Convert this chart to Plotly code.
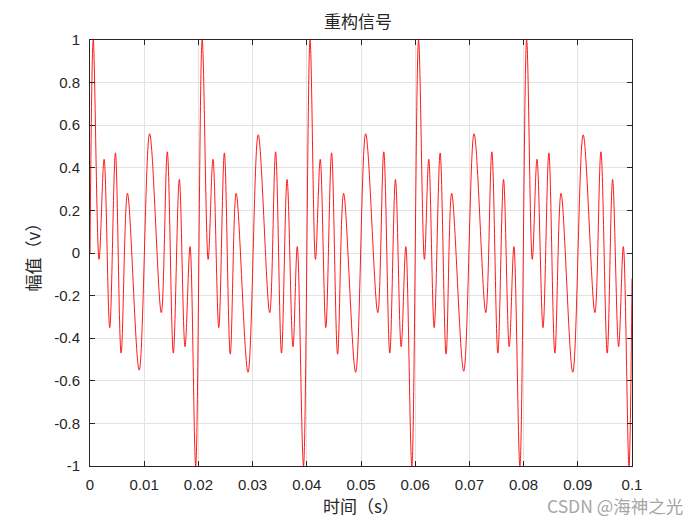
import plotly.graph_objects as go

# Extrema of the reconstructed signal
t_s = [0.0, 0.0006, 0.00167, 0.0026, 0.00364, 0.00469, 0.00574, 0.00691, 0.00907, 0.0110,
       0.01315, 0.01426, 0.01537, 0.01648, 0.01753, 0.01846, 0.0195,
       0.0207, 0.0218, 0.02269, 0.02376, 0.02479, 0.02588, 0.02697, 0.02915, 0.03103,
       0.03315, 0.03424, 0.03533, 0.03636, 0.03745, 0.03824, 0.03939,
       0.0406, 0.0416, 0.04248, 0.04351, 0.04457, 0.04568, 0.04679, 0.04901, 0.05086,
       0.05309, 0.0542, 0.05531, 0.05636, 0.05741, 0.05827, 0.05938,
       0.06062, 0.0617, 0.0625, 0.0635, 0.0646, 0.0657, 0.06673, 0.06895, 0.07086,
       0.07302, 0.07414, 0.07525, 0.0763, 0.07735, 0.07821, 0.07932,
       0.08056, 0.0816, 0.08247, 0.08358, 0.08466, 0.08577, 0.08691, 0.08907, 0.09099,
       0.09315, 0.09426, 0.09543, 0.09642, 0.09753, 0.0984, 0.09944, 0.1]
amp_v = [0.0, 1.0, -0.03, 0.44, -0.35, 0.47, -0.47, 0.28, -0.55, 0.56,
         -0.28, 0.475, -0.47, 0.345, -0.44, 0.03, -1.0,
         1.0, -0.03, 0.44, -0.35, 0.47, -0.475, 0.28, -0.56, 0.555,
         -0.28, 0.475, -0.47, 0.345, -0.44, 0.03, -1.0,
         1.0, -0.03, 0.44, -0.35, 0.47, -0.475, 0.28, -0.56, 0.56,
         -0.28, 0.475, -0.47, 0.345, -0.44, 0.03, -1.0,
         1.0, -0.03, 0.44, -0.35, 0.47, -0.475, 0.28, -0.555, 0.56,
         -0.28, 0.475, -0.47, 0.345, -0.44, 0.03, -1.0,
         1.0, -0.03, 0.44, -0.35, 0.47, -0.47, 0.28, -0.56, 0.555,
         -0.28, 0.475, -0.47, 0.345, -0.44, 0.03, -1.0, -0.12]

x_ticks = [0, 0.01, 0.02, 0.03, 0.04, 0.05, 0.06, 0.07, 0.08, 0.09, 0.1]
x_tick_labels = ["0", "0.01", "0.02", "0.03", "0.04", "0.05", "0.06", "0.07", "0.08", "0.09", "0.1"]
y_ticks = [-1, -0.8, -0.6, -0.4, -0.2, 0, 0.2, 0.4, 0.6, 0.8, 1]
y_tick_labels = ["-1", "-0.8", "-0.6", "-0.4", "-0.2", "0", "0.2", "0.4", "0.6", "0.8", "1"]

FONT = "Liberation Sans, Arial, sans-serif"
CJK = "Noto Sans CJK SC, sans-serif"

fig = go.Figure()
fig.add_trace(go.Scatter(x=t_s, y=amp_v, mode="lines",
                         line=dict(color="#ff0000", width=0.9, shape="spline", smoothing=1.0),
                         showlegend=False, hoverinfo="skip"))

axis_common = dict(showline=True, linecolor="#262626", linewidth=1, mirror="ticks",
                   ticks="inside", ticklen=5, tickcolor="#262626", automargin=False,
                   showgrid=True, gridcolor="#e3e3e3", gridwidth=1, zeroline=False,
                   tickfont=dict(family=FONT, size=15, color="#262626"))

fig.update_xaxes(range=[0, 0.1], tickvals=x_ticks, ticktext=x_tick_labels,
                 title=dict(text="时间（s）", font=dict(family=CJK, size=17, color="#262626"), standoff=7),
                 ticklabelstandoff=5, **axis_common)
fig.update_yaxes(range=[-1, 1], tickvals=y_ticks, ticktext=y_tick_labels,
                 title=dict(text="幅值（v）", font=dict(family=CJK, size=17, color="#262626"), standoff=9),
                 ticklabelstandoff=6, **axis_common)

# the page adds an 8px body margin, so margins are shifted accordingly
fig.update_layout(
    width=700, height=525,
    margin=dict(l=82, r=76, t=32, b=67, autoexpand=False),
    paper_bgcolor="white", plot_bgcolor="white",
    title=dict(text="重构信号", x=0.5, xanchor="center", y=0.973, yanchor="middle",
               font=dict(family=CJK, size=17, color="#262626")),
    annotations=[dict(text="CSDN @海神之光", xref="paper", yref="paper", x=1.098, y=-0.092,
                      xanchor="right", yanchor="middle", showarrow=False,
                      font=dict(family=CJK, size=17.5, color="#a6a6a6"))],
)

fig.write_html("out.html")
